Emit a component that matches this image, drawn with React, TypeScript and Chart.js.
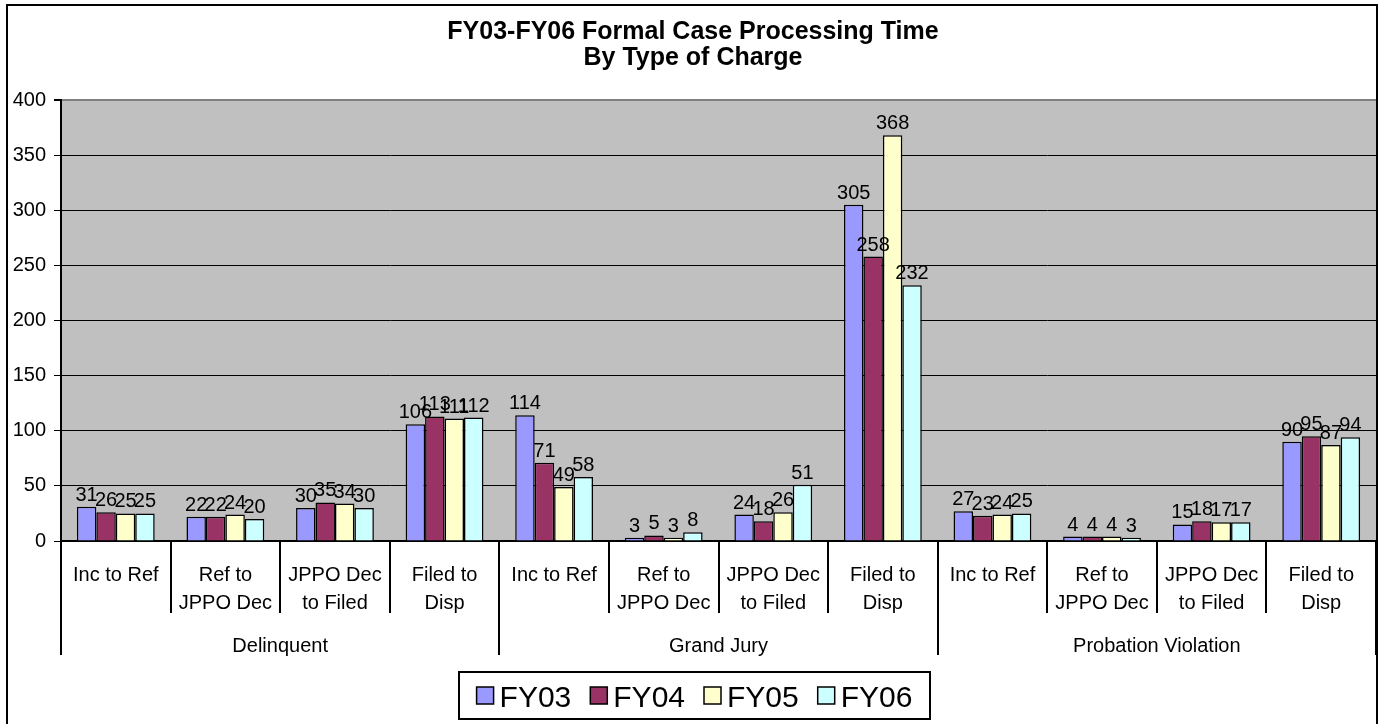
import React, { useEffect, useRef } from "react";
import { Chart, registerables } from "chart.js";

Chart.register(...registerables);

const categories: string[][] = [
  ["Inc to Ref"], ["Ref to", "JPPO Dec"], ["JPPO Dec", "to Filed"], ["Filed to", "Disp"],
  ["Inc to Ref"], ["Ref to", "JPPO Dec"], ["JPPO Dec", "to Filed"], ["Filed to", "Disp"],
  ["Inc to Ref"], ["Ref to", "JPPO Dec"], ["JPPO Dec", "to Filed"], ["Filed to", "Disp"],
];
const groups = ["Delinquent", "Grand Jury", "Probation Violation"];
const seriesNames = ["FY03", "FY04", "FY05", "FY06"];
const fy03 = [31, 22, 30, 106, 114, 3, 24, 305, 27, 4, 15, 90];
const fy04 = [26, 22, 35, 113, 71, 5, 18, 258, 23, 4, 18, 95];
const fy05 = [25, 24, 34, 111, 49, 3, 26, 368, 24, 4, 17, 87];
const fy06 = [25, 20, 30, 112, 58, 8, 51, 232, 25, 3, 17, 94];
const seriesColors = ["#9999FF", "#993366", "#FFFFCC", "#CCFFFF"];
const titleLines = ["FY03-FY06 Formal Case Processing Time", "By Type of Charge"];

const FONT = "'Liberation Sans', Arial, sans-serif";

const customPlugin = {
  id: "custom",
  beforeDraw(chart: any) {
    const { ctx, chartArea } = chart;
    ctx.save();
    ctx.fillStyle = "#ffffff";
    ctx.fillRect(0, 0, chart.width, chart.height);
    ctx.fillStyle = "#C0C0C0";
    ctx.fillRect(chartArea.left, chartArea.top, chartArea.right - chartArea.left, chartArea.bottom - chartArea.top);
    ctx.restore();
  },
  afterDraw(chart: any) {
    const { ctx, chartArea } = chart;
    const x = chart.scales.x;
    const n = chart.data.labels.length;
    const catW = (chartArea.right - chartArea.left) / n;
    ctx.save();
    // data labels
    ctx.fillStyle = "#000";
    ctx.font = `20px ${FONT}`;
    ctx.textAlign = "center";
    ctx.textBaseline = "alphabetic";
    chart.data.datasets.forEach((ds: any, di: number) => {
      const meta = chart.getDatasetMeta(di);
      meta.data.forEach((bar: any, i: number) => {
        ctx.fillText(String(ds.data[i]), bar.x, bar.y - 6);
      });
    });
    // category dividers
    ctx.strokeStyle = "#000";
    ctx.lineWidth = 2;
    const b = chartArea.bottom;
    for (let i = 0; i <= n; i++) {
      const px = i < n ? x.getPixelForValue(i) - catW / 2 : x.getPixelForValue(n - 1) + catW / 2;
      const len = i % 4 === 0 ? 114 : 72;
      ctx.beginPath();
      ctx.moveTo(Math.round(px), b);
      ctx.lineTo(Math.round(px), b + len);
      ctx.stroke();
    }
    // category labels
    ctx.font = `20px ${FONT}`;
    ctx.fillStyle = "#000";
    chart.data.labels.forEach((lab: string[], i: number) => {
      const cx = x.getPixelForValue(i);
      lab.forEach((line, li) => ctx.fillText(line, cx, b + 40 + li * 28));
    });
    // group labels
    groups.forEach((g, gi) => {
      const x0 = x.getPixelForValue(gi * 4) - catW / 2;
      const x1 = x.getPixelForValue(gi * 4 + 3) + catW / 2;
      ctx.fillText(g, (x0 + x1) / 2, b + 111);
    });
    // title
    ctx.font = `bold 25px ${FONT}`;
    const tcx = 693;
    ctx.fillText(titleLines[0], tcx, 39);
    ctx.fillText(titleLines[1], tcx, 65);
    // legend
    ctx.font = `30px ${FONT}`;
    const boxS = 17;
    const gap = 6;
    const itemGap = 19;
    const items = chart.data.datasets.map((ds: any) => ({
      label: ds.label,
      color: ds.backgroundColor,
      w: boxS + gap + ctx.measureText(ds.label).width,
    }));
    const total = items.reduce((s: number, it: any) => s + it.w, 0) + itemGap * (items.length - 1);
    const lx0 = 459, lx1 = 930, ly0 = 672, ly1 = 719;
    ctx.lineWidth = 2;
    ctx.strokeRect(lx0, ly0, lx1 - lx0, ly1 - ly0);
    let cx = (lx0 + lx1) / 2 - total / 2;
    const cy = (ly0 + ly1) / 2;
    ctx.textAlign = "left";
    items.forEach((it: any) => {
      ctx.fillStyle = it.color;
      ctx.fillRect(cx, cy - boxS / 2, boxS, boxS);
      ctx.strokeStyle = "#000";
      ctx.lineWidth = 1.5;
      ctx.strokeRect(cx, cy - boxS / 2, boxS, boxS);
      ctx.fillStyle = "#000";
      ctx.fillText(it.label, cx + boxS + gap, cy + 11);
      cx += it.w + itemGap;
    });
    // outer frame
    ctx.strokeStyle = "#000";
    ctx.lineWidth = 2;
    ctx.strokeRect(7, 5, 1370, 730);
    ctx.restore();
  },
};

export default function App() {
  const ref = useRef<HTMLCanvasElement | null>(null);
  useEffect(() => {
    if (!ref.current) return;
    const data = [fy03, fy04, fy05, fy06];
    const chart = new Chart(ref.current, {
      type: "bar",
      data: {
        labels: categories as any,
        datasets: seriesNames.map((name, i) => ({
          label: name,
          data: data[i],
          backgroundColor: seriesColors[i],
          borderColor: "#000000",
          borderWidth: 1.5,
          categoryPercentage: 0.71,
          barPercentage: 1,
        })),
      },
      options: {
        responsive: false,
        animation: false,
        maintainAspectRatio: false,
        layout: { padding: { top: 100, left: 0, right: 3, bottom: 0 } },
        plugins: {
          legend: { display: false },
          title: { display: false },
          tooltip: { enabled: false },
        },
        scales: {
          x: {
            ticks: { display: false },
            grid: { display: false, drawTicks: false },
            border: { display: true, color: "#000", width: 2 },
            afterFit: (s: any) => { s.height = 183; },
          },
          y: {
            min: 0,
            max: 400,
            ticks: {
              stepSize: 50,
              color: "#000",
              font: { size: 20, family: FONT },
              padding: 8,
            },
            grid: {
              color: (c: any) => (c.tick && c.tick.value === 400 ? "#808080" : "#000000"),
              lineWidth: (c: any) => (c.tick && c.tick.value === 400 ? 2 : 1),
              tickColor: "#000",
              tickLength: 7,
            },
            border: { display: true, color: "#000", width: 2 },
            afterFit: (s: any) => { s.width = 61; },
          },
        },
      },
      plugins: [customPlugin],
    });
    return () => chart.destroy();
  }, []);
  return (
    <div style={{ position: "fixed", left: 0, top: 0, width: 1379, height: 724, background: "#fff" }}>
      <canvas ref={ref} width={1379} height={724} style={{ display: "block" }} />
    </div>
  );
}
